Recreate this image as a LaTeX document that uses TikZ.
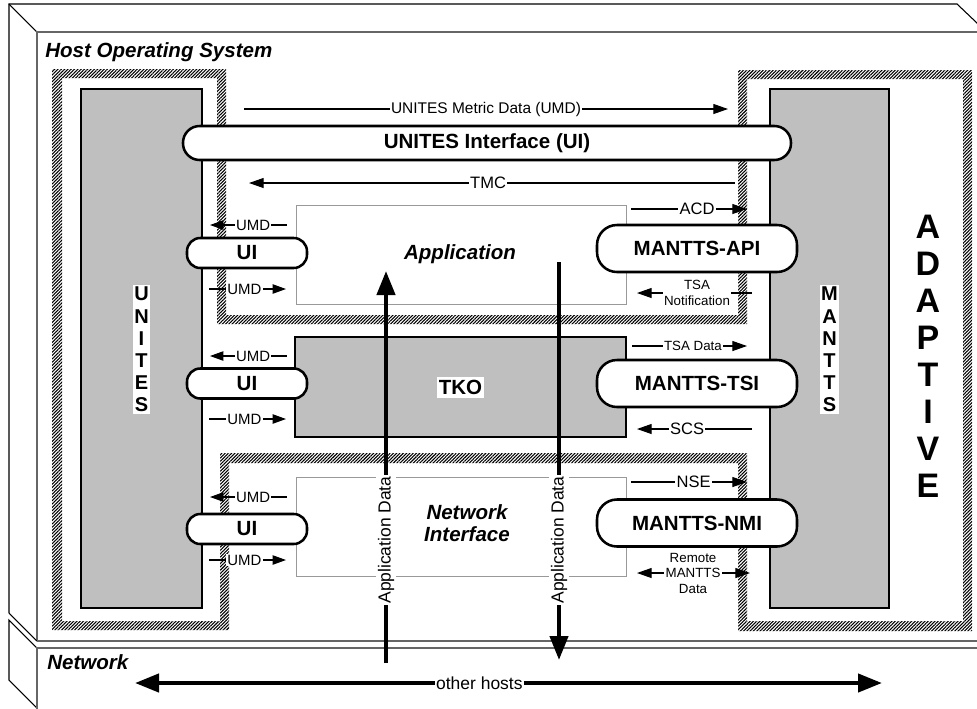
\documentclass[tikz,border=0pt]{standalone}
\usepackage{fontspec}
\setmainfont{Liberation Sans}
\usetikzlibrary{arrows.meta,patterns.meta}

% type sizes (one unit of the picture is 0.75pt)
\newcommand\fHead{\bfseries\itshape\fontsize{15.4}{16.5}\selectfont}
\newcommand\fBold{\bfseries\fontsize{15.4}{17}\selectfont}
\newcommand\fMid{\fontsize{12.4}{14}\selectfont}
\newcommand\fMetric{\fontsize{11.6}{13}\selectfont}
\newcommand\fUmd{\fontsize{11.2}{13}\selectfont}
\newcommand\fSmall{\fontsize{10}{11.6}\selectfont}
\newcommand\fBig{\fontsize{13.1}{15}\selectfont}
\newcommand\fStack{\bfseries\fontsize{15}{16.6}\selectfont}
\newcommand\fAdapt{\bfseries\fontsize{25.5}{27.7}\selectfont}

\tikzset{
  backedge/.style={draw=black, line width=0.8pt},
  frontedge/.style={draw=black!60, line width=1.3pt},
  hatchband/.style={pattern={Lines[angle=45,distance=1.75pt,line width=0.8pt]}, pattern color=black},
  block/.style={draw=black, line width=2pt, fill=black!25, inner sep=0pt},
  thinbox/.style={draw=black!40, line width=0.75pt, inner sep=0pt},
  pill/.style={draw=black, line width=1.9pt, fill=white, inner sep=0pt, font=\fBold},
  vstack/.style={fill=white, align=center, inner xsep=1pt, inner ysep=1.5pt, font=\fStack},
  lbl/.style={fill=white, inner xsep=1pt, inner ysep=0.5pt},
  arr/.style={line width=0.8pt, -{Triangle[length=11pt,width=7.5pt]}},
  umdarr/.style={line width=0.8pt, -{Triangle[length=10pt,width=7pt]}},
  twoarr/.style={line width=0.8pt, {Triangle[length=11pt,width=7.5pt]}-{Triangle[length=11pt,width=7.5pt]}},
  bigarr/.style={line width=3.2pt, -{Triangle[length=18pt,width=13.5pt]}},
  bigtwoarr/.style={line width=3.2pt, {Triangle[length=18pt,width=13.5pt]}-{Triangle[length=18pt,width=13.5pt]}},
  biglbl/.style={fill=white, inner xsep=1pt, inner ysep=1.5pt, font=\fBig},
}

\begin{document}
\begin{tikzpicture}[x=0.75pt,y=-0.75pt]
\clip (0,0) rectangle (977,708);

% host operating system slab
\draw[backedge] (9,613) -- (9,4) -- (957,4) -- (990,35.4);
\draw[backedge] (9,4) -- (37,32);
\draw[frontedge] (37,641) -- (37,32) -- (990,32);
\draw[backedge] (9,613) -- (37,641);
\draw[frontedge] (37,641) -- (990,641);
% network slab
\draw[backedge] (37,648) -- (9,620) -- (9,680) -- (37,708);
\draw[frontedge] (37,720) -- (37,648) -- (990,648);

\node[anchor=base west, font=\fHead, inner sep=0pt] (hostos) at (45,57) {Host Operating System};
\node[anchor=base west, font=\fHead, inner sep=0pt] (network) at (47,669) {Network};

% hatched protection boundaries
\fill[hatchband]
  (52,69) rectangle (62,630)
  (52,69) rectangle (226,78)
  (52,621) rectangle (229,630)
  (217,69) rectangle (226,324)
  (220,453) rectangle (229,630)
  (217,315) rectangle (747,324)
  (220,453) rectangle (747,463)
  (738,70) rectangle (972,79)
  (963,70) rectangle (972,631)
  (738,621) rectangle (972,631)
  (738,70) rectangle (747,324)
  (738,453) rectangle (747,631);

% UNITES and MANTTS columns
\node[block, minimum width=121*0.75pt, minimum height=519*0.75pt] (unites) at (141.5,348.5) {};
\node[vstack] (uniteslbl) at (141.5,349.5) {U\\N\\I\\T\\E\\S};
\node[block, minimum width=119*0.75pt, minimum height=519*0.75pt] (mantts) at (829.5,348.5) {};
\node[vstack] (manttslbl) at (829.5,349.5) {M\\A\\N\\T\\T\\S};
\node[font=\fAdapt, align=center, inner sep=0pt] (adaptive) at (928,356.5) {A\\D\\A\\P\\T\\I\\V\\E};

% layers
\node[thinbox, minimum width=330*0.75pt, minimum height=99*0.75pt] (app) at (461,254.5) {};
\node[anchor=base, font=\fHead, inner sep=0pt] (applbl) at (460,259) {Application};
\node[block, minimum width=331*0.75pt, minimum height=100*0.75pt] (tko) at (460.5,387) {};
\node[fill=white, font=\fBold, inner xsep=1.5pt, inner ysep=2.5pt] (tkolbl) at (460.5,387.5) {TKO};
\node[thinbox, minimum width=330*0.75pt, minimum height=99*0.75pt] (ni) at (461,526.5) {};
\node[font=\fHead, align=center, inner sep=0pt] (nilbl) at (467,523) {Network\\Interface};

% interfaces
\node[pill, rounded corners=12.5pt, minimum width=608*0.75pt, minimum height=34*0.75pt] (uibar) at (487,143) {UNITES Interface (UI)};
\node[pill, rounded corners=10pt, minimum width=90pt, minimum height=22.5pt] (uiapp) at (247,253) {UI};
\node[pill, rounded corners=10pt, minimum width=90pt, minimum height=22.5pt] (uitko) at (247,383.5) {UI};
\node[pill, rounded corners=10pt, minimum width=90pt, minimum height=22.5pt] (uini) at (247,529) {UI};
\node[pill, rounded corners=15pt, minimum width=150pt, minimum height=35.25pt] (api) at (697,248.5) {MANTTS-API};
\node[pill, rounded corners=15pt, minimum width=150pt, minimum height=35.25pt] (tsi) at (697,383.5) {MANTTS-TSI};
\node[pill, rounded corners=15pt, minimum width=150pt, minimum height=35.25pt] (nmi) at (697,523) {MANTTS-NMI};

% metric data and control flows across the top
\coordinate (umdA) at (244,109);  \coordinate (umdB) at (728,109);
\draw[arr] (umdA) -- node[lbl, font=\fMetric, pos=0.5] (umdlbl) {UNITES Metric Data (UMD)} (umdB);
\coordinate (tmcA) at (735,183);  \coordinate (tmcB) at (249,183);
\draw[arr] (tmcA) -- node[lbl, font=\fMid, pos=0.508] (tmclbl) {TMC} (tmcB);

% UMD flows between each layer and UNITES
\foreach \ya/\yb/\k in {225/289/a, 356/419/b, 497/560/c} {
  \coordinate (uo\k A) at (287,\ya); \coordinate (uo\k B) at (210,\ya);
  \draw[umdarr] (uo\k A) -- node[lbl, font=\fUmd, pos=0.44] (uo\k) {UMD} (uo\k B);
  \coordinate (ui\k A) at (209,\yb); \coordinate (ui\k B) at (286,\yb);
  \draw[umdarr] (ui\k A) -- node[lbl, font=\fUmd, pos=0.46] (ui\k) {UMD} (ui\k B);
}

% flows between the layers and MANTTS
\coordinate (acdA) at (631,209); \coordinate (acdB) at (747,209);
\draw[arr] (acdA) -- node[lbl, font=\fMid, pos=0.57] (acd) {ACD} (acdB);
\coordinate (tsanA) at (752,293); \coordinate (tsanB) at (637,293);
\draw[arr] (tsanA) -- node[lbl, font=\fSmall, align=center, pos=0.478] (tsan) {TSA\\Notification} (tsanB);
\coordinate (tsadA) at (632,346); \coordinate (tsadB) at (747,346);
\draw[arr] (tsadA) -- node[lbl, font=\fSmall, pos=0.53] (tsad) {TSA Data} (tsadB);
\coordinate (scsA) at (752,429); \coordinate (scsB) at (637,429);
\draw[arr] (scsA) -- node[lbl, font=\fMid, pos=0.565] (scs) {SCS} (scsB);
\coordinate (nseA) at (631,482); \coordinate (nseB) at (747,482);
\draw[arr] (nseA) -- node[lbl, font=\fMid, pos=0.54] (nse) {NSE} (nseB);
\coordinate (rmdA) at (637,573); \coordinate (rmdB) at (750,573);
\draw[twoarr] (rmdA) -- node[lbl, font=\fSmall, align=center, pos=0.496] (rmd) {Remote\\MANTTS\\Data} (rmdB);

% application data paths and the network
\coordinate (adUpA) at (386,663); \coordinate (adUpB) at (386,271);
\draw[bigarr] (adUpA) -- (adUpB);
\node[biglbl, rotate=90] (adUp) at (386,540) {Application Data};
\coordinate (adDnA) at (559,262); \coordinate (adDnB) at (559,660);
\draw[bigarr] (adDnA) -- (adDnB);
\node[biglbl, rotate=90] (adDn) at (559,540) {Application Data};
\coordinate (ohA) at (135,683); \coordinate (ohB) at (882,683);
\draw[bigtwoarr] (ohA) -- node[lbl, font=\fBig, pos=0.461] (oh) {other hosts} (ohB);
\end{tikzpicture}
\end{document}
